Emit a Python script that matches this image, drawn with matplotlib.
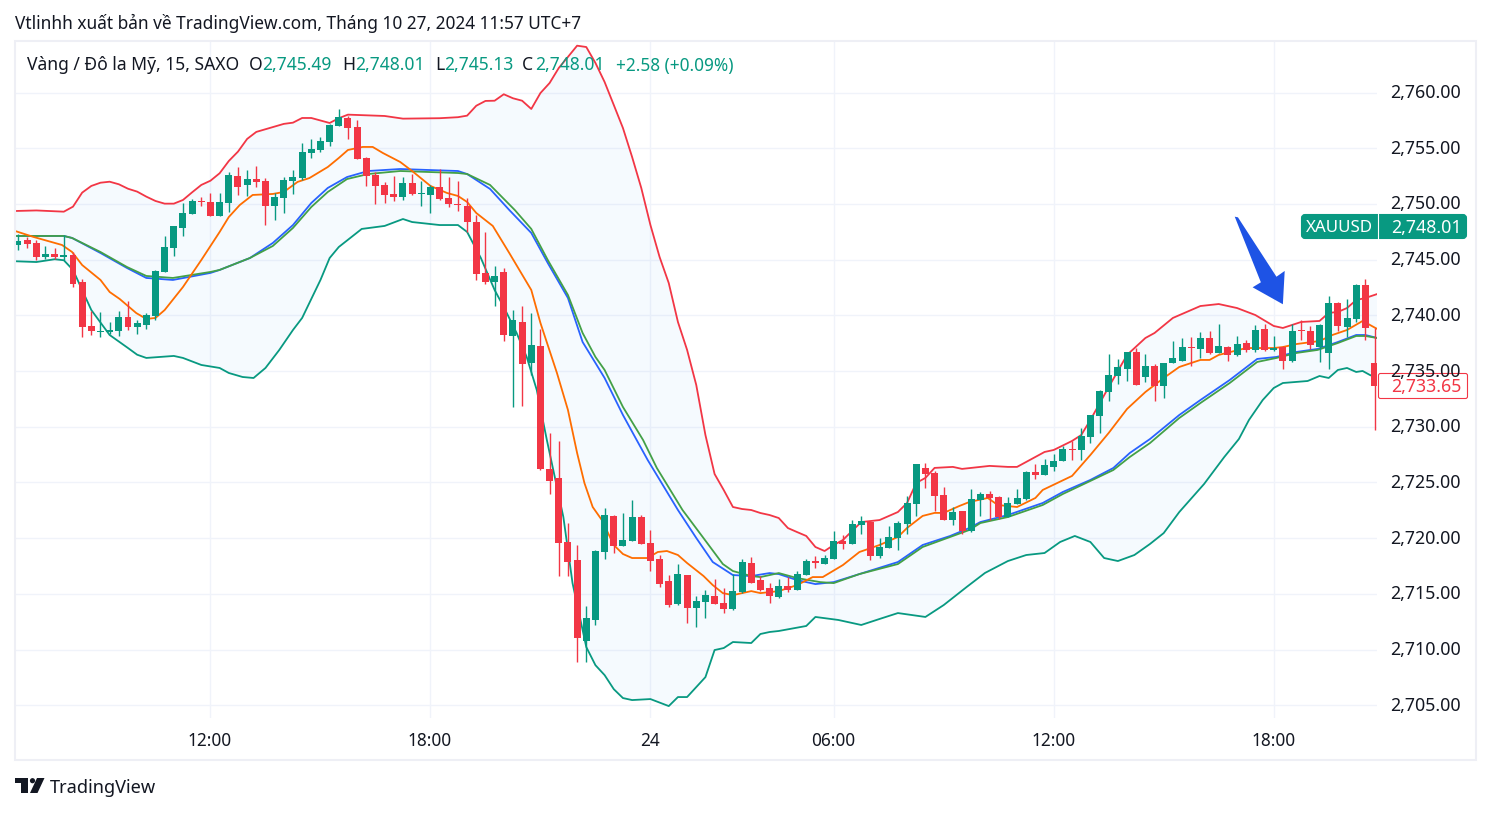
import matplotlib
matplotlib.use("Agg")
import numpy as np
import matplotlib.pyplot as plt
from matplotlib.patches import FancyBboxPatch, Polygon, Circle, Rectangle

plt.rcParams['font.family'] = ['Noto Sans', 'DejaVu Sans']

#15 min candles, one row = 10 bars
opens = [2746.32, 2746.77, 2746.50, 2745.24, 2745.51, 2745.24, 2745.42, 2743.00, 2739.05, 2738.54,
         2738.55, 2738.60, 2739.86, 2738.96, 2739.14, 2739.95, 2743.90, 2746.05, 2747.85, 2749.10,
         2750.28, 2750.20, 2748.90, 2750.10, 2752.50, 2751.70, 2752.25, 2752.05, 2749.80, 2750.55,
         2752.05, 2752.35, 2754.60, 2754.85, 2755.60, 2757.00, 2757.70, 2756.90, 2754.15, 2752.60,
         2751.70, 2750.90, 2750.60, 2751.90, 2750.90, 2750.80, 2751.50, 2750.55, 2750.00, 2749.80,
         2748.40, 2743.80, 2743.00, 2743.90, 2738.15, 2739.40, 2735.75, 2737.25, 2726.20, 2725.40,
         2719.65, 2718.05, 2710.80, 2712.65, 2718.75, 2722.00, 2719.30, 2719.75, 2721.90, 2719.55,
         2718.15, 2716.15, 2714.10, 2716.70, 2713.75, 2714.30, 2714.80, 2714.20, 2713.65, 2715.15,
         2717.80, 2716.25, 2715.50, 2714.70, 2715.70, 2715.35, 2716.70, 2717.95, 2717.65, 2718.10,
         2719.75, 2719.50, 2721.20, 2721.45, 2718.40, 2719.10, 2720.05, 2721.25, 2723.05, 2726.30,
         2725.85, 2723.90, 2721.65, 2722.45, 2720.65, 2723.40, 2723.95, 2723.70, 2721.90, 2723.05,
         2723.50, 2725.95, 2725.70, 2726.40, 2726.90, 2728.00, 2727.90, 2729.10, 2731.00, 2733.10,
         2734.60, 2735.20, 2736.70, 2734.50, 2735.45, 2733.65, 2735.70, 2735.90, 2737.15, 2737.00,
         2738.00, 2736.65, 2737.15, 2736.45, 2737.55, 2736.90, 2738.80, 2736.90, 2737.15, 2735.90,
         2738.70, 2738.60, 2737.15, 2736.65, 2741.10, 2738.95, 2739.65, 2742.70, 2735.70]
highs = [2747.28, 2747.06, 2746.77, 2746.23, 2746.05, 2747.20, 2745.72, 2743.27, 2740.40, 2740.30,
         2739.40, 2740.40, 2741.30, 2739.60, 2740.20, 2744.10, 2747.10, 2748.05, 2750.10, 2750.45,
         2750.60, 2751.00, 2751.00, 2752.90, 2753.30, 2753.05, 2753.40, 2752.30, 2751.00, 2752.40,
         2753.05, 2755.50, 2755.85, 2756.00, 2757.20, 2758.55, 2757.90, 2757.55, 2754.20, 2752.90,
         2752.00, 2752.50, 2752.40, 2752.70, 2752.05, 2751.70, 2753.15, 2752.40, 2752.05, 2750.55,
         2749.00, 2747.50, 2744.45, 2744.25, 2740.50, 2740.85, 2740.20, 2738.80, 2729.45, 2728.75,
         2721.35, 2719.40, 2713.90, 2718.95, 2722.70, 2722.10, 2722.25, 2723.40, 2722.10, 2720.70,
         2718.50, 2716.70, 2717.65, 2716.70, 2714.80, 2715.35, 2716.35, 2715.55, 2716.80, 2718.15,
         2718.30, 2716.60, 2716.00, 2716.35, 2716.50, 2717.05, 2718.15, 2718.40, 2718.50, 2720.65,
         2720.30, 2721.65, 2722.00, 2721.55, 2720.00, 2721.10, 2721.55, 2723.80, 2726.65, 2726.75,
         2726.05, 2724.60, 2722.80, 2722.45, 2724.40, 2724.15, 2724.25, 2723.80, 2723.70, 2724.40,
         2726.05, 2726.65, 2727.10, 2727.55, 2728.30, 2728.75, 2729.90, 2731.05, 2733.30, 2736.55,
         2736.10, 2736.70, 2737.05, 2736.55, 2735.60, 2735.70, 2737.70, 2737.95, 2738.05, 2738.50,
         2738.60, 2739.20, 2737.25, 2738.15, 2737.80, 2739.15, 2739.20, 2738.15, 2737.25, 2739.20,
         2739.55, 2739.05, 2739.20, 2741.75, 2741.20, 2741.45, 2742.80, 2743.25, 2738.85]
lows = [2745.87, 2746.05, 2744.97, 2745.06, 2745.06, 2745.00, 2742.58, 2738.06, 2738.25, 2738.06,
        2738.30, 2738.15, 2738.70, 2738.30, 2738.80, 2739.60, 2743.90, 2745.30, 2747.10, 2749.10,
        2749.80, 2748.90, 2748.90, 2749.30, 2750.80, 2750.70, 2751.50, 2748.10, 2748.55, 2749.20,
        2750.90, 2752.15, 2754.10, 2754.65, 2755.20, 2757.00, 2755.85, 2754.05, 2751.60, 2750.00,
        2750.10, 2750.25, 2750.35, 2750.80, 2749.80, 2749.20, 2750.35, 2749.70, 2749.35, 2747.50,
        2743.20, 2742.80, 2740.85, 2737.70, 2731.80, 2731.85, 2734.65, 2726.10, 2724.00, 2716.60,
        2716.60, 2708.90, 2708.90, 2712.20, 2718.15, 2718.65, 2719.30, 2719.75, 2719.50, 2717.05,
        2715.60, 2713.80, 2714.00, 2712.40, 2712.05, 2712.85, 2714.10, 2713.30, 2713.55, 2715.05,
        2716.00, 2715.25, 2714.20, 2714.60, 2715.15, 2715.35, 2716.70, 2717.30, 2717.65, 2718.10,
        2719.05, 2719.50, 2720.40, 2718.05, 2718.20, 2719.10, 2718.95, 2720.40, 2722.00, 2724.50,
        2722.45, 2721.65, 2721.20, 2720.40, 2720.55, 2722.00, 2721.65, 2721.75, 2721.90, 2723.05,
        2723.40, 2725.30, 2725.70, 2726.05, 2726.90, 2727.00, 2727.00, 2728.55, 2729.45, 2732.30,
        2733.85, 2734.10, 2733.75, 2734.05, 2732.30, 2732.60, 2735.70, 2735.90, 2735.45, 2736.20,
        2736.55, 2736.65, 2735.90, 2736.35, 2736.70, 2736.70, 2736.80, 2736.80, 2735.20, 2735.80,
        2737.80, 2737.00, 2735.80, 2735.20, 2738.60, 2738.05, 2739.40, 2737.80, 2729.70]
closes = [2746.68, 2746.41, 2745.24, 2745.51, 2745.24, 2745.42, 2742.82, 2738.96, 2738.60, 2738.63,
          2738.70, 2739.86, 2738.96, 2739.30, 2740.00, 2744.00, 2746.15, 2748.00, 2749.20, 2750.30,
          2750.20, 2748.90, 2750.20, 2752.60, 2751.50, 2752.25, 2752.00, 2749.80, 2750.60, 2752.15,
          2752.40, 2754.65, 2754.95, 2755.65, 2757.10, 2757.85, 2756.85, 2754.05, 2752.50, 2751.60,
          2750.80, 2750.60, 2751.90, 2750.90, 2751.00, 2751.50, 2750.45, 2750.00, 2749.90, 2748.40,
          2743.70, 2743.00, 2743.55, 2738.25, 2739.60, 2735.65, 2737.35, 2726.20, 2725.15, 2719.55,
          2717.85, 2711.05, 2712.85, 2718.85, 2722.10, 2719.30, 2719.85, 2721.90, 2719.50, 2717.95,
          2715.90, 2714.00, 2716.75, 2713.75, 2714.35, 2714.90, 2714.10, 2713.65, 2715.25, 2717.85,
          2716.00, 2715.35, 2714.80, 2715.70, 2715.35, 2716.75, 2717.95, 2717.75, 2718.20, 2719.75,
          2719.50, 2721.30, 2721.55, 2718.40, 2719.20, 2720.10, 2721.35, 2723.15, 2726.65, 2725.75,
          2723.80, 2721.65, 2722.35, 2720.65, 2723.50, 2723.95, 2723.60, 2721.90, 2723.15, 2723.60,
          2725.95, 2725.70, 2726.55, 2726.90, 2728.00, 2727.90, 2729.15, 2731.05, 2733.20, 2734.65,
          2735.35, 2736.70, 2733.75, 2735.45, 2733.65, 2735.70, 2736.15, 2737.15, 2737.05, 2738.00,
          2736.65, 2737.25, 2736.45, 2737.45, 2736.90, 2738.70, 2736.90, 2737.05, 2735.90, 2738.60,
          2738.60, 2737.35, 2739.15, 2741.10, 2739.05, 2739.75, 2742.70, 2738.85, 2733.65]

#bollinger upper band (bar index, price)
upper_x = [-0.33, 2, 5, 6, 7, 8, 9, 10, 11, 12, 13, 14, 15, 16, 17, 18, 19, 20, 21, 22, 23, 24, 25, 26,
           29, 30, 31, 32, 34, 35, 36, 40, 42, 46, 48, 49, 50, 51, 52, 53, 54, 55, 56, 57, 58, 59, 60, 61,
           62, 63, 64, 65, 66, 67, 68, 69, 70, 71, 72, 73, 74, 75, 76, 77, 78, 79, 80, 81, 82, 83, 84, 85,
           86, 87, 88, 89, 90, 91, 92, 94, 96, 97, 98, 99, 100, 102, 103, 106, 108, 109, 112, 113, 115,
           116, 117, 119, 121, 123, 124, 126, 129, 131, 133, 135, 137, 138, 140, 142, 143, 144, 145, 146,
           147, 148.3]
upper = [2749.37, 2749.42, 2749.31, 2749.76, 2751.02, 2751.62, 2751.91, 2752.00, 2751.77, 2751.37, 2751.11,
         2750.66, 2750.27, 2750.03, 2750.03, 2750.36, 2751.05, 2751.71, 2752.09, 2752.76, 2753.86, 2754.70,
         2755.84, 2756.47, 2757.19, 2757.30, 2757.72, 2757.72, 2757.27, 2757.70, 2758.02, 2757.90, 2757.66,
         2757.70, 2757.79, 2757.93, 2758.82, 2759.25, 2759.27, 2759.85, 2759.49, 2759.27, 2758.53, 2759.96,
         2760.86, 2762.21, 2763.20, 2764.21, 2764.09, 2762.66, 2760.95, 2758.89, 2756.82, 2754.22, 2751.44,
         2748.11, 2745.24, 2742.90, 2739.41, 2736.90, 2733.75, 2729.26, 2725.76, 2724.32, 2722.80, 2722.62,
         2722.53, 2722.26, 2722.08, 2721.81, 2720.91, 2720.55, 2720.20, 2719.21, 2718.85, 2719.39, 2719.84,
         2720.65, 2721.45, 2721.63, 2722.35, 2723.16, 2724.96, 2725.41, 2726.31, 2726.40, 2726.22, 2726.49,
         2726.40, 2726.40, 2727.74, 2727.92, 2728.73, 2729.26, 2730.61, 2733.57, 2736.45, 2737.97, 2738.42,
         2739.77, 2740.84, 2741.02, 2740.66, 2740.03, 2739.05, 2738.87, 2739.41, 2739.50, 2740.22, 2740.31,
         2740.66, 2741.38, 2741.56, 2741.92]

#lower band
lower_x = [-0.33, 2, 4, 5, 6, 7, 8, 10, 12, 13, 14, 17, 18, 20, 22, 23, 24.5, 25.7, 27, 28.5, 30, 31, 33, 34,
           35, 37.5, 40, 42, 43, 46, 48, 49, 50.5, 52, 53, 54.4, 55.5, 56.6, 57.7, 59.5, 60.5, 62, 63, 64,
           65, 66, 67, 69, 71, 72, 73, 75, 76, 77, 78, 80, 81, 82, 83, 86, 87, 89.5, 92, 94, 96, 99, 101,
           103.5, 105.5, 108, 110, 112, 113.7, 115.3, 117, 118.5, 120, 121.8, 123.5, 125, 126.7, 129.4,
           131.6, 133.2, 134.3, 135.8, 137, 138, 140.7, 142, 143, 144, 145, 146, 146.7, 147.5, 148.3]
lower = [2744.86, 2744.79, 2745.04, 2744.95, 2744.08, 2742.28, 2740.48, 2738.24, 2737.07, 2736.47, 2736.18,
         2736.36, 2736.18, 2735.55, 2735.28, 2734.83, 2734.47, 2734.38, 2735.28, 2736.89, 2738.69, 2739.77,
         2743.18, 2745.15, 2746.14, 2747.76, 2748.03, 2748.65, 2748.38, 2748.11, 2748.11, 2747.49, 2745.15,
         2742.28, 2740.75, 2738.42, 2736.27, 2733.30, 2728.81, 2721.90, 2715.97, 2710.23, 2708.60, 2707.71,
         2706.45, 2705.65, 2705.47, 2705.56, 2704.93, 2705.74, 2705.74, 2707.53, 2709.96, 2710.14, 2710.68,
         2710.59, 2711.40, 2711.58, 2711.67, 2712.12, 2712.93, 2712.66, 2712.21, 2712.75, 2713.28, 2712.93,
         2714.00, 2715.62, 2716.88, 2717.95, 2718.49, 2718.67, 2719.66, 2720.20, 2719.66, 2718.22, 2717.95,
         2718.49, 2719.48, 2720.46, 2722.35, 2724.86, 2727.28, 2728.90, 2730.61, 2732.40, 2733.48, 2733.93,
         2734.11, 2734.56, 2734.38, 2735.10, 2735.28, 2734.92, 2735.01, 2734.65, 2734.38]

#fast moving average (orange)
fast_x = [-0.33, 1.7, 4.8, 5.9, 7, 9, 10, 11.1, 12.9, 14, 15, 16, 18, 20, 22, 23, 24.2, 25.6, 27.8, 29, 30.5,
          31.8, 33.8, 35, 36, 37.6, 38.7, 39.8, 41.7, 43, 45, 46.8, 48, 49, 50, 51.8, 53.6, 56, 57, 58.8,
          60, 61, 61.8, 62.7, 63.7, 65, 66, 67, 68.7, 69.8, 70.8, 72, 73, 74.8, 75.8, 76.9, 78, 80, 81, 83,
          85, 86.7, 87.8, 90, 91.8, 94, 96, 97, 98.7, 100, 101, 102.7, 103.8, 105.8, 106.9, 109, 111, 111.8,
          115, 117, 119, 121, 123, 125, 126.7, 129, 130, 131, 134, 137, 138, 139.5, 142, 143.4, 145, 146.7,
          148.3]
fast = [2747.58, 2747.04, 2746.32, 2745.69, 2744.52, 2743.18, 2742.10, 2741.47, 2740.21, 2739.68, 2739.77,
        2740.48, 2742.55, 2744.97, 2747.49, 2748.83, 2749.91, 2750.81, 2750.90, 2751.08, 2751.98, 2752.33,
        2753.32, 2754.13, 2754.85, 2755.12, 2755.12, 2754.58, 2753.77, 2752.96, 2751.62, 2750.99, 2750.72,
        2750.18, 2749.19, 2748.03, 2745.60, 2742.28, 2739.32, 2734.83, 2731.51, 2727.65, 2724.95, 2722.80,
        2721.63, 2719.39, 2718.58, 2718.22, 2718.22, 2718.76, 2718.85, 2718.49, 2717.77, 2716.60, 2715.79,
        2715.07, 2714.89, 2715.25, 2715.07, 2715.25, 2715.79, 2716.51, 2716.51, 2717.59, 2718.76, 2719.39,
        2720.11, 2720.92, 2722.00, 2722.27, 2722.27, 2722.89, 2723.25, 2723.61, 2722.98, 2722.80, 2723.61,
        2724.33, 2725.59, 2727.47, 2729.45, 2731.60, 2733.12, 2734.38, 2735.37, 2736.00, 2736.00, 2736.45,
        2737.07, 2737.07, 2737.16, 2737.43, 2737.70, 2738.24, 2738.69, 2739.50, 2738.78]

#slow averages share the same bars
slow_x = [-0.33, 5, 5.9, 9, 11.9, 14, 16.9, 21, 22, 25.3, 27.8, 30, 32, 33.8, 35.9, 38.2, 41.7, 48, 49, 51.5,
          53.6, 56, 57.8, 60, 61.6, 63, 64, 66, 67.5, 68.7, 72, 74, 75.8, 78, 80, 82, 83, 85, 87, 89, 91.8,
          96, 98.7, 101.7, 103.8, 105, 108, 111.8, 114, 117, 119.5, 121.3, 123.5, 126.7, 129, 132.2, 135.2,
          137.3, 139.5, 141.8, 144, 146, 147, 148.3]
blue_line = [2747.13, 2747.13, 2746.95, 2745.60, 2744.25, 2743.36, 2743.18, 2743.81, 2744.08, 2745.15, 2746.50,
             2748.11, 2750.09, 2751.44, 2752.42, 2752.96, 2753.14, 2752.96, 2752.69, 2751.35, 2749.46, 2747.40,
             2744.70, 2741.56, 2737.61, 2735.73, 2734.38, 2731.06, 2728.81, 2727.02, 2722.53, 2720.02, 2717.86,
             2716.69, 2716.60, 2716.87, 2716.78, 2716.24, 2715.88, 2716.06, 2716.78, 2717.86, 2719.39, 2720.20,
             2720.92, 2721.45, 2722.08, 2723.16, 2724.15, 2725.23, 2726.30, 2727.65, 2728.90, 2731.06, 2732.40,
             2734.20, 2736.09, 2736.27, 2736.72, 2736.99, 2737.61, 2738.24, 2738.24, 2737.97]
green_x = [-0.33, 5, 5.9, 9, 11.9, 14, 16.9, 21, 22, 25.3, 27.8, 30, 32, 33.8, 35.9, 38.2, 41.7, 48, 49, 51.5,
           54.2, 56, 57.8, 60, 61.6, 63, 64, 66, 68.2, 69.7, 72.5, 74.7, 76.9, 78, 80, 81, 83, 85, 87.5, 89,
           91.8, 96, 98.7, 101.7, 103.8, 105, 108, 111.8, 114, 117, 119.5, 121.3, 123.5, 126.7, 129, 132.2,
           135.2, 137.3, 139.5, 141.8, 144, 146, 147, 148.3]
green_line = [2747.13, 2747.13, 2746.95, 2745.69, 2744.34, 2743.54, 2743.36, 2743.90, 2744.08, 2745.15, 2746.23,
              2747.85, 2749.73, 2751.08, 2752.24, 2752.69, 2752.96, 2752.78, 2752.69, 2751.71, 2749.46, 2747.76,
              2744.97, 2741.83, 2738.42, 2736.27, 2735.10, 2731.78, 2728.81, 2726.30, 2722.53, 2720.11, 2717.68,
              2717.05, 2716.60, 2716.51, 2716.87, 2716.42, 2716.06, 2715.97, 2716.78, 2717.68, 2719.21, 2720.11,
              2720.74, 2721.36, 2721.90, 2722.98, 2723.97, 2725.14, 2726.12, 2727.29, 2728.54, 2730.79, 2732.13,
              2733.93, 2735.82, 2736.18, 2736.63, 2736.90, 2737.52, 2738.15, 2738.15, 2737.97]

#hand drawn arrow on the chart
arrow_x = [132.75, 133.1, 137.3, 138.2, 138.0, 134.7, 135.6]
arrow_y = [2748.86, 2748.8, 2743.47, 2743.99, 2741.00, 2742.52, 2742.97]

price_ticks = [2705, 2710, 2715, 2720, 2725, 2730, 2735, 2740, 2745, 2750, 2755, 2760]
time_ticks = [21, 45, 69, 89, 113, 137]
time_labels = ["12:00", "18:00", "24", "06:00", "12:00", "18:00"]

UP = "#089981"
DOWN = "#f23645"
GRID = "#f0f3fa"
TEXT = "#131722"

W, H = 1491, 813
fig = plt.figure(figsize=(W / 100, H / 100), dpi=100, facecolor="white")

#chart pane
ax = fig.add_axes([15 / W, 1 - 718 / H, (1377 - 15) / W, (718 - 41) / H])
ax.set_xlim(-0.327, 148.27)
ax.set_ylim(2703.86, 2764.63)
for s in ax.spines.values():
    s.set_visible(False)
ax.set_xticks(time_ticks)
ax.set_yticks(price_ticks)
ax.tick_params(length=0, labelbottom=False, labelleft=False)
ax.grid(True, color=GRID, lw=1.0)
ax.set_axisbelow(True)

#band fill and lines
ax.fill(np.r_[upper_x, lower_x[::-1]], np.r_[upper, lower[::-1]], color="#2196f3", alpha=0.045, lw=0, zorder=1)
ax.plot(upper_x, upper, color="#f23645", lw=1.3, zorder=2)
ax.plot(lower_x, lower, color="#089981", lw=1.3, zorder=2)
ax.plot(slow_x, blue_line, color="#2962ff", lw=1.3, zorder=2)
ax.plot(green_x, green_line, color="#43a047", lw=1.3, zorder=2)
ax.plot(fast_x, fast, color="#ff6d00", lw=1.3, zorder=2)

#candles
for i in range(len(opens)):
    col = UP if closes[i] >= opens[i] else DOWN
    ax.vlines(i, lows[i], highs[i], color=col, lw=1.0, zorder=3)
    bottom = min(opens[i], closes[i])
    height = max(abs(closes[i] - opens[i]), 0.09)
    ax.bar(i, height, bottom=bottom, width=0.76, color=col, lw=0, zorder=4)

ax.add_patch(Polygon(np.column_stack([arrow_x, arrow_y]), closed=True, color="#1e53e5", lw=0, zorder=5))

#everything else is placed in pixels on a full figure layer
top = fig.add_axes([0, 0, 1, 1], facecolor="none")
top.set_xlim(0, W)
top.set_ylim(H, 0)
top.axis("off")

top.add_patch(Rectangle((15, 41), 1461, 719, fill=False, ec="#eeeff5", lw=1.5))

top.text(15, 23, "Vtlinhh xuất bản về TradingView.com, Tháng 10 27, 2024 11:57 UTC+7",
         fontsize=12.45, color=TEXT, va="center")
top.text(27, 65.5, "Vàng / Đô la Mỹ, 15, SAXO", fontsize=12.6, color=TEXT, va="center")
for lab, lab_x, val, val_x in [("O", 249, "2,745.49", 262), ("H", 342, "2,748.01", 355),
                               ("L", 435, "2,745.13", 444), ("C", 522, "2,748.01", 535)]:
    top.text(lab_x, 65.5, lab, fontsize=12.6, color=TEXT, va="center")
    top.text(val_x, 65.5, val, fontsize=12.6, color=UP, va="center")
top.text(616, 65.5, "+2.58 (+0.09%)", fontsize=12.4, color=UP, va="center")

#price scale labels
for p in price_ticks:
    y = ax.transData.transform((0, p))[1]
    top.text(1461, H - y + 0.5, f"{p:,.2f}", fontsize=12.8, color=TEXT, ha="right", va="center")

#time labels
for t, lab in zip(time_ticks, time_labels):
    x = ax.transData.transform((t, 0))[0]
    top.text(x - 0.5, 741, lab, fontsize=12.4, color=TEXT, ha="center", va="center",
             fontweight="bold" if lab == "24" else "normal")

#last price tags
top.add_patch(FancyBboxPatch((1302, 215), 164, 23, boxstyle="round,pad=0,rounding_size=3", fc=UP, ec=UP, lw=1.5))
top.plot([1377.5, 1377.5], [213, 240], color="white", lw=0.8)
top.text(1339, 227.5, "XAUUSD", fontsize=12.2, color="white", ha="center", va="center")
top.text(1426, 227.5, "2,748.01", fontsize=12.8, color="white", ha="center", va="center")
top.add_patch(FancyBboxPatch((1378.5, 373.5), 89, 25, boxstyle="round,pad=0,rounding_size=2", fc="white", ec=DOWN, lw=0.8))
top.text(1426, 387, "2,733.65", fontsize=12.8, color=DOWN, ha="center", va="center")

#tradingview logo
top.add_patch(Polygon([(15, 778), (28, 778), (28, 793), (21, 793), (21, 783), (15, 783)], color=TEXT, lw=0))
top.add_patch(Circle((32.5, 780.7), 2.6, color=TEXT, lw=0))
top.add_patch(Polygon([(37, 778), (44.5, 778), (37.5, 793), (30, 793)], color=TEXT, lw=0))
top.text(50, 788, "TradingView", fontsize=13.1, color=TEXT, va="center")

fig.savefig("out.png", dpi=100)
